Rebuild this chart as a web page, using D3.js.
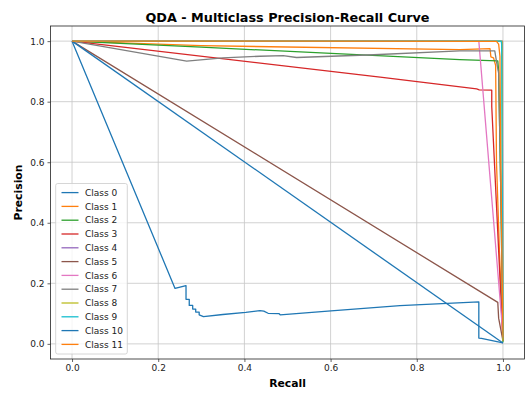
<!DOCTYPE html>
<html lang="en">
  <head>
    <meta charset="UTF-8" />
    <title></title>
    <script src="https://d3js.org/d3.v7.min.js"></script>
    <style>
      body { margin: 0; background: #fff; }
      text { font-family: 'DejaVu Sans', sans-serif; }
    </style>
  </head>
  <body>
    <svg id="chart" width="526" height="394"></svg>
    <script>
      // Class names and their curves (recall, precision)
      const classes = ['Class 0', 'Class 1', 'Class 2', 'Class 3', 'Class 4', 'Class 5',
        'Class 6', 'Class 7', 'Class 8', 'Class 9', 'Class 10', 'Class 11']

      const recall0 = [0, 0.239, 0.2645, 0.2645, 0.272, 0.272, 0.28, 0.28, 0.287, 0.287, 0.295, 0.295, 0.305,
        0.35, 0.403, 0.436, 0.445, 0.455, 0.48, 0.483, 0.601, 0.761, 0.944, 0.944, 0.95, 1.0]
      const precision0 = [1, 0.183, 0.192, 0.147, 0.147, 0.127, 0.127, 0.115, 0.115, 0.105, 0.105, 0.096, 0.09,
        0.097, 0.104, 0.11, 0.108, 0.101, 0.1, 0.096, 0.109, 0.126, 0.139, 0.019, 0.018, 0.003]
      const recall1 = [0, 0.3, 0.9, 0.97, 0.972, 0.978, 0.983, 0.985, 0.992, 1.0]
      const precision1 = [1, 0.985, 0.972, 0.975, 0.948, 0.945, 0.92, 0.6, 0.3, 0.01]
      const recall2 = [0, 0.3, 0.9, 0.988, 0.99, 0.995, 1.0]
      const precision2 = [1, 0.98, 0.939, 0.935, 0.9, 0.5, 0.005]
      const recall3 = [0, 0.715, 0.939, 0.945, 0.974, 0.974, 1.0]
      const precision3 = [1, 0.881, 0.842, 0.839, 0.838, 0.784, 0.01]
      const recall4 = [0, 0.999, 1.0]
      const precision4 = [1, 1, 0.03]
      const recall5 = [0, 0.988, 0.99, 1.0]
      const precision5 = [1, 0.137, 0.085, 0.01]
      const recall6 = [0, 0.944, 1.0]
      const precision6 = [1, 1, 0.03]
      const recall7 = [0, 0.266, 0.35, 0.436, 0.49, 0.521, 0.7, 0.9, 0.981, 0.986, 0.99, 0.995, 1.0]
      const precision7 = [1, 0.934, 0.945, 0.95, 0.952, 0.946, 0.955, 0.968, 0.968, 0.925, 0.894, 0.5, 0.01]
      const recall8 = [0, 0.998, 1.0]
      const precision8 = [1, 1, 0.01]
      const recall9 = [0, 0.996, 0.997, 1.0]
      const precision9 = [1, 1, 0.99, 0.02]
      const recall10 = [0, 1.0]
      const precision10 = [1, 0.003]
      const recall11 = [0, 0.5, 0.985, 0.99, 0.993, 0.995, 1.0]
      const precision11 = [1, 1, 0.999, 0.99, 0.95, 0.6, 0.02]

      const recalls = [recall0, recall1, recall2, recall3, recall4, recall5,
        recall6, recall7, recall8, recall9, recall10, recall11]
      const precisions = [precision0, precision1, precision2, precision3, precision4, precision5,
        precision6, precision7, precision8, precision9, precision10, precision11]

      const ticks = [0, 0.2, 0.4, 0.6, 0.8, 1.0]

      const colors = ['#1f77b4', '#ff7f0e', '#2ca02c', '#d62728', '#9467bd', '#8c564b',
        '#e377c2', '#7f7f7f', '#bcbd22', '#17becf']

      const svg = d3.select('svg')
      const pLeft = 50.5, pRight = 524.5, pTop = 26, pBottom = 359

      const x = d3.scaleLinear().domain([-0.05, 1.05]).range([pLeft, pRight])
      const y = d3.scaleLinear().domain([-0.05, 1.05]).range([pBottom, pTop])

      // grid
      const grid = svg.append('g').attr('stroke', '#b0b0b0').attr('stroke-width', 0.8).attr('opacity', 0.7)
      grid.selectAll('.gx').data(ticks).join('line').attr('class', 'gx')
        .attr('x1', d => x(d)).attr('x2', d => x(d)).attr('y1', pTop).attr('y2', pBottom)
      grid.selectAll('.gy').data(ticks).join('line').attr('class', 'gy')
        .attr('y1', d => y(d)).attr('y2', d => y(d)).attr('x1', pLeft).attr('x2', pRight)

      // curves
      svg.append('clipPath').attr('id', 'clip')
        .append('rect').attr('x', pLeft).attr('y', pTop).attr('width', pRight - pLeft).attr('height', pBottom - pTop)

      const line = d3.line().x(d => x(d[0])).y(d => y(d[1]))
      svg.append('g').attr('clip-path', 'url(#clip)')
        .selectAll('path')
        .data(classes.map((c, i) => recalls[i].map((r, j) => [r, precisions[i][j]])))
        .join('path')
        .attr('d', line)
        .attr('fill', 'none')
        .attr('stroke', (d, i) => colors[i % 10])
        .attr('stroke-width', 1.3)
        .attr('stroke-linejoin', 'round')

      // axes
      svg.append('g').attr('transform', `translate(0,${pBottom})`)
        .call(d3.axisBottom(x).tickValues(ticks).tickFormat(d3.format('.1f')).tickSize(3).tickPadding(3))
      svg.append('g').attr('transform', `translate(${pLeft},0)`)
        .call(d3.axisLeft(y).tickValues(ticks).tickFormat(d3.format('.1f')).tickSize(3).tickPadding(3))
      svg.selectAll('.domain').remove()
      svg.selectAll('.tick text').attr('font-size', 9).attr('fill', '#222').attr('font-family', 'DejaVu Sans')
      svg.selectAll('.tick line').attr('stroke', '#222').attr('stroke-width', 0.7)

      svg.append('rect').attr('x', pLeft).attr('y', pTop).attr('width', pRight - pLeft).attr('height', pBottom - pTop)
        .attr('fill', 'none').attr('stroke', '#222').attr('stroke-width', 0.8)

      // titles
      svg.append('text').attr('x', (pLeft + pRight) / 2).attr('y', 21.5).attr('text-anchor', 'middle')
        .attr('font-size', 12.8).attr('font-weight', 'bold').text('QDA - Multiclass Precision-Recall Curve')
      svg.append('text').attr('x', (pLeft + pRight) / 2).attr('y', 387).attr('text-anchor', 'middle')
        .attr('font-size', 10.8).attr('font-weight', 'bold').text('Recall')
      svg.append('text').attr('transform', `translate(22,${(pTop + pBottom) / 2}) rotate(-90)`)
        .attr('text-anchor', 'middle').attr('font-size', 10.8).attr('font-weight', 'bold').text('Precision')

      // legend
      const lg = svg.append('g')
      lg.append('rect').attr('x', 55.7).attr('y', 183.5).attr('width', 71.6).attr('height', 170.5)
        .attr('rx', 2).attr('fill', 'white').attr('fill-opacity', 0.8).attr('stroke', '#cccccc').attr('stroke-width', 0.8)
      const items = lg.selectAll('.item').data(classes).join('g').attr('class', 'item')
        .attr('transform', (d, i) => `translate(0,${192.6 + i * 13.8})`)
      items.append('line').attr('x1', 61.5).attr('x2', 78.5)
        .attr('stroke', (d, i) => colors[i % 10]).attr('stroke-width', 1.3)
      items.append('text').attr('x', 85).attr('y', 3.2).attr('font-size', 9).attr('fill', '#222').text(d => d)
    </script>
  </body>
</html>
